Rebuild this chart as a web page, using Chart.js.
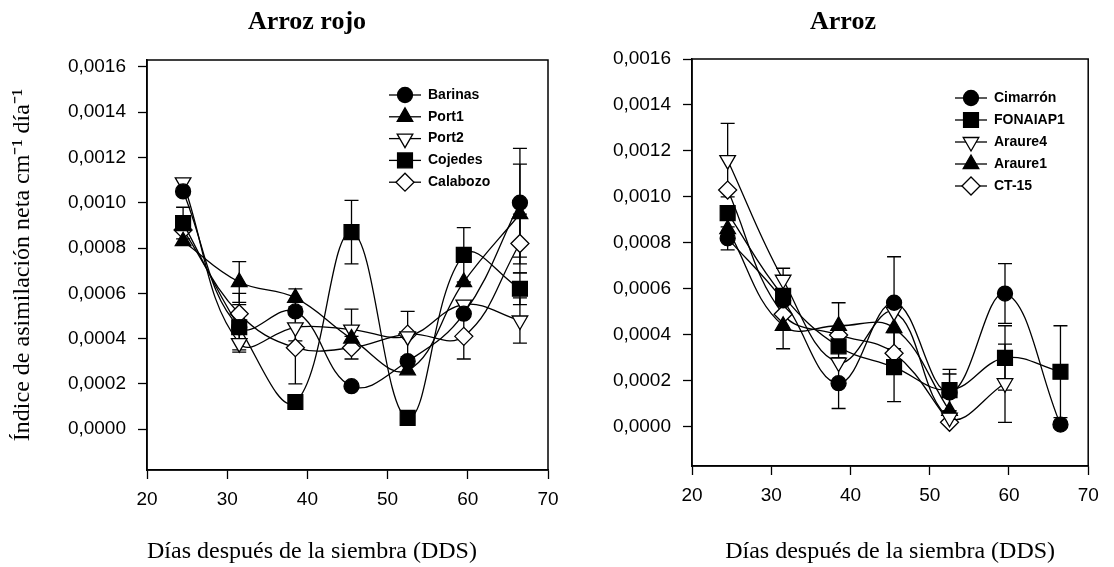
<!DOCTYPE html>
<html>
<head>
<meta charset="utf-8">
<script src="https://cdn.jsdelivr.net/npm/chart.js@4.4.1/dist/chart.umd.min.js"></script>
<style>
  html, body { margin: 0; padding: 0; background: #fff; }
  body { width: 1114px; height: 567px; position: relative; overflow: hidden; }
  .panel { position: absolute; top: 0; height: 567px; }
  #leftPanel { left: 0; width: 560px; }
  #rightPanel { left: 560px; width: 540px; }
</style>
</head>
<body>
<div class="panel" id="leftPanel"><canvas id="rojoChart"></canvas></div>
<div class="panel" id="rightPanel"><canvas id="arrozChart"></canvas></div>
<script>
// sampling days (DDS)
const days = [24.5, 31.5, 38.5, 45.5, 52.5, 59.5, 66.5];
const xTicks = [20, 30, 40, 50, 60, 70];
const yTicks = [0, 0.0002, 0.0004, 0.0006, 0.0008, 0.0010, 0.0012, 0.0014, 0.0016];

// === ARROZ ROJO ===
const rojoNames = ["Barinas", "Port1", "Port2", "Cojedes", "Calabozo"];
const barinas = [0.00105, 0.00045, 0.00052, 0.00019, 0.00030, 0.00051, 0.00100];
const port1 = [0.00083, 0.00065, 0.00058, 0.00040, 0.00026, 0.00065, 0.00095];
const port2 = [0.00109, 0.00038, 0.00045, 0.00044, 0.00041, 0.00055, 0.00048];
const cojedes = [0.00091, 0.00045, 0.00012, 0.00087, 0.00005, 0.00077, 0.00062];
const calabozo = [0.00088, 0.00051, 0.00036, 0.00036, 0.00042, 0.00041, 0.00082];
const barinasErr = [0, 0, 0, 0, 0, 0, 0.00024];
const port1Err = [0, 0.00009, 0.00004, 0, 0, 0, 0.00022];
const port2Err = [0, 0.00004, 0.00006, 0.00009, 0, 0, 0.0001];
const cojedesErr = [0.00007, 0.0001, 0, 0.00014, 0, 0.00012, 0.00007];
const calabozoErr = [0, 0.00009, 0.00016, 0.00005, 0.0001, 0.0001, 0.00013];

// === ARROZ ===
const arrozNames = ["Cimarrón", "FONAIAP1", "Araure4", "Araure1", "CT-15"];
const cimarron = [0.00082, 0.00055, 0.00019, 0.00054, 0.00015, 0.00058, 0.00001];
const fonaiap1 = [0.00093, 0.00057, 0.00035, 0.00026, 0.00016, 0.00030, 0.00024];
const araure4 = [0.00116, 0.00064, 0.00028, 0.00050, 0.00004, 0.00019, null];
const araure1 = [0.00086, 0.00044, 0.00044, 0.00043, 0.00007, null, null];
const ct15 = [0.00103, 0.00049, 0.00040, 0.00032, 0.00002, null, null];
const cimarronErr = [0.00005, 0, 0.00011, 0.0002, 0.00008, 0.00013, 0];
const fonaiap1Err = [0, 0, 0.00005, 0.00015, 0.00009, 0.00014, 0.0002];
const araure4Err = [0.00016, 0.00005, 0, 0, 0, 0.00017, 0];
const araure1Err = [0, 0.0001, 0.0001, 0, 0, 0, 0];
const ct15Err = [0, 0, 0, 0, 0, 0, 0];

const SANS = '"Liberation Sans", Arial, sans-serif';
const SERIF = '"Liberation Serif", "Times New Roman", serif';

const markers = {
  circle: { style: "circle", radius: 7.5, fill: "#000", rotation: 0 },
  triUp: { style: "triangle", radius: 9, fill: "#000", rotation: 0 },
  triDown: { style: "triangle", radius: 9, fill: "#fff", rotation: 180 },
  square: { style: "rect", radius: 10.5, fill: "#000", rotation: 0 },
  diamond: { style: "rectRot", radius: 9, fill: "#fff", rotation: 0 }
};

function series(label, values, errors, m) {
  return {
    label,
    data: values.map((v, i) => ({ x: days[i], y: v })),
    errors,
    borderColor: "#000",
    borderWidth: 1.3,
    tension: 0.4,
    fill: false,
    pointStyle: m.style,
    pointRadius: m.radius,
    pointRotation: m.rotation,
    pointBackgroundColor: m.fill,
    pointBorderColor: "#000",
    pointBorderWidth: 1.3
  };
}

// error bars drawn from the dataset values through the scales
const errorBars = {
  id: "errorBars",
  beforeDatasetsDraw(chart) {
    const { ctx, scales: { x, y } } = chart;
    ctx.save();
    ctx.strokeStyle = "#000";
    ctx.lineWidth = 1.3;
    chart.data.datasets.forEach(ds => {
      (ds.errors || []).forEach((e, i) => {
        const pt = ds.data[i];
        if (!e || pt.y == null) return;
        const px = x.getPixelForValue(pt.x);
        const top = y.getPixelForValue(pt.y + e);
        const bot = y.getPixelForValue(pt.y - e);
        ctx.beginPath();
        ctx.moveTo(px, top); ctx.lineTo(px, bot);
        ctx.moveTo(px - 7, top); ctx.lineTo(px + 7, top);
        ctx.moveTo(px - 7, bot); ctx.lineTo(px + 7, bot);
        ctx.stroke();
      });
    });
    ctx.restore();
  }
};

const frame = {
  id: "frame",
  beforeDatasetsDraw(chart) {
    const { ctx, chartArea: a } = chart;
    ctx.save();
    ctx.strokeStyle = "#000";
    ctx.lineWidth = 1.5;
    ctx.strokeRect(a.left, a.top, a.right - a.left, a.bottom - a.top);
    ctx.restore();
  }
};

const panelTitle = {
  id: "panelTitle",
  afterDraw(chart, args, opts) {
    const { ctx } = chart;
    ctx.save();
    ctx.font = "bold 26px " + SERIF;
    ctx.fillStyle = "#000";
    ctx.textAlign = "center";
    ctx.textBaseline = "middle";
    ctx.fillText(opts.text, opts.x, opts.y);
    ctx.restore();
  }
};

// legend inside the plot, SigmaPlot style: line through marker
const boxLegend = {
  id: "boxLegend",
  afterDraw(chart, args, opts) {
    const { ctx, chartArea: a } = chart;
    ctx.save();
    chart.data.datasets.forEach((ds, i) => {
      const cx = a.left + opts.x;
      const cy = a.top + opts.y + i * opts.gap;
      ctx.strokeStyle = "#000";
      ctx.lineWidth = 1.3;
      ctx.beginPath();
      ctx.moveTo(cx - 16, cy); ctx.lineTo(cx + 16, cy);
      ctx.stroke();
      ctx.fillStyle = ds.pointBackgroundColor;
      Chart.helpers.drawPoint(ctx, {
        pointStyle: ds.pointStyle, radius: ds.pointRadius,
        rotation: ds.pointRotation, borderWidth: 1.3
      }, cx, cy);
      ctx.fillStyle = "#000";
      ctx.font = "bold 14px " + SANS;
      ctx.textAlign = "left";
      ctx.textBaseline = "middle";
      ctx.fillText(ds.label, cx + 23, cy);
    });
    ctx.restore();
  }
};

function makeOptions(cfg) {
  return {
    responsive: true,
    maintainAspectRatio: false,
    animation: false,
    layout: { padding: { top: cfg.top, right: cfg.right, left: 0, bottom: 0 } },
    plugins: {
      legend: { display: false },
      tooltip: { enabled: false },
      panelTitle: { text: cfg.title, x: cfg.titleX, y: 22 },
      boxLegend: cfg.legend
    },
    scales: {
      x: {
        type: "linear",
        min: 20, max: 70,
        afterBuildTicks: s => { s.ticks = xTicks.map(v => ({ value: v })); },
        afterFit: s => { s.height = cfg.xHeight; s.paddingLeft = 0; s.paddingRight = 0; },
        ticks: { color: "#000", font: { family: SANS, size: 19 }, padding: 9, autoSkip: false, maxRotation: 0 },
        grid: { drawOnChartArea: false, drawTicks: true, tickLength: 9, tickColor: "#000", tickWidth: 1.3 },
        border: { display: true, color: "#000", width: 1.5 },
        title: { display: true, text: "Días después de la siembra (DDS)", align: cfg.xTitleAlign, color: "#000",
                 font: { family: SERIF, size: 24 }, padding: { top: 0, bottom: 1 } }
      },
      y: {
        type: "linear",
        min: cfg.yMin, max: cfg.yMax,
        afterBuildTicks: s => { s.ticks = yTicks.map(v => ({ value: v })); },
        afterFit: s => { s.width = cfg.yWidth; s.paddingTop = 0; s.paddingBottom = 0; },
        ticks: { color: "#000", font: { family: SANS, size: 19 }, padding: 12, autoSkip: false,
                 callback: v => v.toFixed(4).replace(".", ",") },
        grid: { drawOnChartArea: false, drawTicks: true, tickLength: 9, tickColor: "#000", tickWidth: 1.3 },
        border: { display: true, color: "#000", width: 1.5 },
        title: { display: cfg.yTitle, text: "Índice de asimilación neta cm⁻¹ día⁻¹", color: "#000",
                 font: { family: SERIF, size: 24 }, padding: { top: 8, bottom: 0 } }
      }
    }
  };
}

new Chart(document.getElementById("rojoChart"), {
  type: "line",
  data: {
    datasets: [
      series(rojoNames[0], barinas, barinasErr, markers.circle),
      series(rojoNames[1], port1, port1Err, markers.triUp),
      series(rojoNames[2], port2, port2Err, markers.triDown),
      series(rojoNames[3], cojedes, cojedesErr, markers.square),
      series(rojoNames[4], calabozo, calabozoErr, markers.diamond)
    ]
  },
  options: makeOptions({
    top: 60, right: 12, xHeight: 97, yWidth: 147, yMin: -0.00018, yMax: 0.00163,
    title: "Arroz rojo", titleX: 307, xTitleAlign: "start", yTitle: true,
    legend: { x: 258, y: 35, gap: 21.8 }
  }),
  plugins: [frame, errorBars, panelTitle, boxLegend]
});

new Chart(document.getElementById("arrozChart"), {
  type: "line",
  data: {
    datasets: [
      series(arrozNames[0], cimarron, cimarronErr, markers.circle),
      series(arrozNames[1], fonaiap1, fonaiap1Err, markers.square),
      series(arrozNames[2], araure4, araure4Err, markers.triDown),
      series(arrozNames[3], araure1, araure1Err, markers.triUp),
      series(arrozNames[4], ct15, ct15Err, markers.diamond)
    ]
  },
  options: makeOptions({
    top: 59, right: 2, xHeight: 101, yWidth: 132, yMin: -0.00017, yMax: 0.0016,
    title: "Arroz", titleX: 283, xTitleAlign: "center", yTitle: false,
    legend: { x: 279, y: 39, gap: 22 }
  }),
  plugins: [frame, errorBars, panelTitle, boxLegend]
});
</script>
</body>
</html>
